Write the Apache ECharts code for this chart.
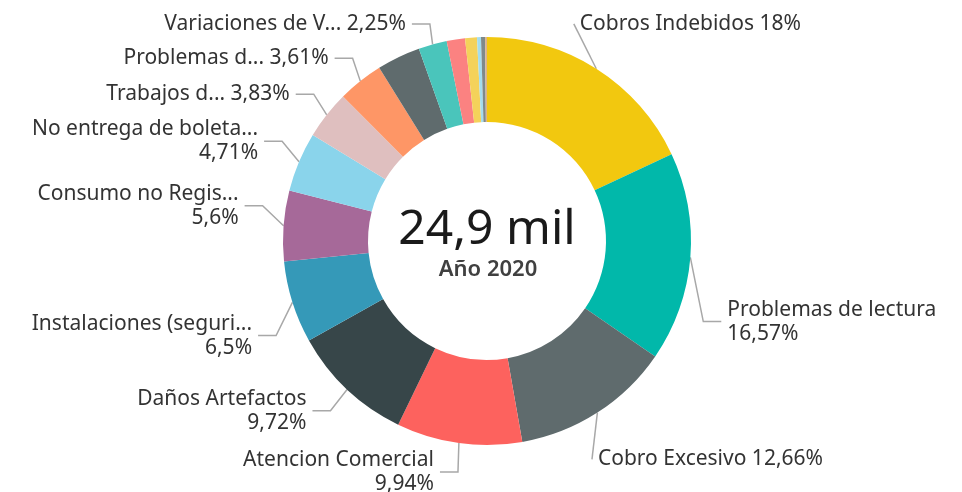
<!DOCTYPE html>
<html>
<head>
<meta charset="utf-8">
<script src="https://cdn.jsdelivr.net/npm/echarts@6/dist/echarts.min.js"></script>
<style>
  html, body { margin: 0; padding: 0; background: #fff; }
  #chart { width: 962px; height: 492px; }
</style>
</head>
<body>
<div id="chart"></div>
<script>
// categorias en el orden del grafico (horario desde arriba)
var categorias = [
    'Cobros Indebidos', 'Problemas de lectura', 'Cobro Excesivo', 'Atencion Comercial',
    'Daños Artefactos', 'Instalaciones (seguri...', 'Consumo no Regis...', 'No entrega de boleta...',
    'Trabajos d...', 'Problemas d...', 'Otros 1', 'Variaciones de V...',
    'Otros 2', 'Otros 3', 'Otros 4', 'Otros 5', 'Otros 6'
];
// porcentaje de reclamos
var porcentajes = [18, 16.57, 12.66, 9.94, 9.72, 6.5, 5.6, 4.71, 3.83, 3.61, 3.44, 2.25, 1.45, 0.94, 0.31, 0.32, 0.15];
// etiquetas en dos lineas
var dosLineas = ['Problemas de lectura', 'Atencion Comercial', 'Daños Artefactos', 'Instalaciones (seguri...',
    'Consumo no Regis...', 'No entrega de boleta...'];
var totalTexto = '24,9 mil';
var subTexto = 'Año 2020';

var colores = ['#F2C80F', '#01B8AA', '#5F6B6D', '#FD625E', '#374649', '#3599B8', '#A66999', '#8AD4EB',
    '#DFBFBF', '#FE9666', '#5F6B6D', '#4AC5BB', '#FB8281', '#F4D25A', '#A4DDEE', '#7F898A', '#D9B38C'];
// ajuste fino de etiquetas (estilo Power BI)
var ajusteX = [-47, 0, -30, 0, -8, -4, -8, -5, -3, 0, 0, 0, 0, 0, 0, 0, 0];
var ajusteY = [-33, 63, 35, 15, 11, 29, -19, -15, -12, -12, 0, -7, 0, 0, 0, 0, 0];
var hueco = 6;

var fmtPct = function (v) {
    return (Math.round(v * 100) / 100).toString().replace('.', ',') + '%';
};

var datos = categorias.map(function (c, i) {
    var item = {name: c, value: porcentajes[i], itemStyle: {color: colores[i]}};
    if (porcentajes[i] < 2 || c === 'Otros 1') {
        item.label = {show: false};
        item.labelLine = {show: false};
    }
    return item;
});

var option = {
    animation: false,
    textStyle: {fontFamily: 'Noto Sans'},
    graphic: [
        {
            type: 'text', x: 487, y: 206,
            style: {text: totalTexto, textAlign: 'center', textVerticalAlign: 'top', fontSize: 48, fill: '#1a1a1a', fontFamily: 'Noto Sans'}
        },
        {
            type: 'text', x: 488, y: 259,
            style: {text: subTexto, textAlign: 'center', textVerticalAlign: 'top', fontSize: 22, fontWeight: 600, fill: '#404040', fontFamily: 'Noto Sans'}
        }
    ],
    series: [{
        type: 'pie',
        center: [487, 241],
        radius: [119, 204],
        startAngle: 90,
        clockwise: true,
        avoidLabelOverlap: true,
        data: datos,
        label: {
            show: true,
            color: '#333',
            fontSize: 21,
            lineHeight: 24,
            padding: [0, hueco],
            formatter: function (p) {
                var sep = dosLineas.indexOf(p.name) >= 0 ? '\n' : ' ';
                return p.name + sep + fmtPct(p.value);
            }
        },
        labelLine: {
            show: true,
            length: 14,
            length2: 18,
            lineStyle: {color: '#a8a8a8', width: 1.5}
        },
        labelLayout: function (params) {
            var r = params.labelRect;
            var i = params.dataIndex;
            var derecha = r.x + r.width / 2 > 487;
            return {
                x: (derecha ? r.x - hueco : r.x + r.width + hueco) + ajusteX[i],
                y: r.y + r.height / 2 + ajusteY[i],
                align: derecha ? 'left' : 'right',
                verticalAlign: 'middle'
            };
        }
    }]
};

var myChart = echarts.init(document.getElementById('chart'));
myChart.setOption(option);
</script>
</body>
</html>
